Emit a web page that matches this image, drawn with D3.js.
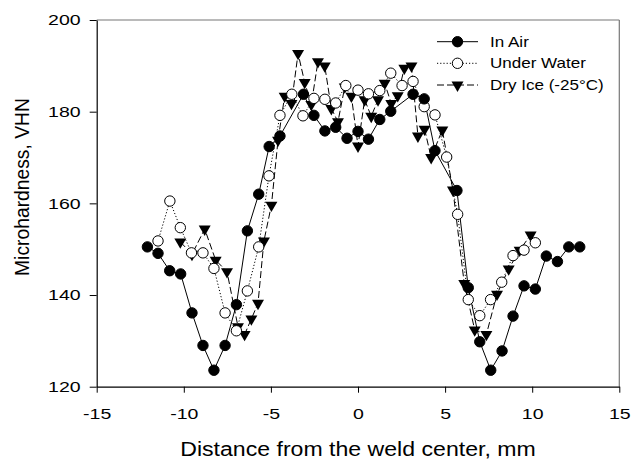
<!DOCTYPE html>
<html><head><meta charset="utf-8">
<script src="https://cdn.jsdelivr.net/npm/d3@7"></script>
<style>body{margin:0;background:#fff;} text{font-family:Arial,"Liberation Sans",sans-serif;}</style>
</head><body>
<svg id="c" width="632" height="461"></svg>
<script>
const airX = [-12.09,-11.48,-10.81,-10.18,-9.53,-8.90,-8.27,-7.63,-6.98,-6.35,-5.70,-5.10,-4.48,-3.13,-2.53,-1.90,-1.28,-0.63,0,0.60,1.25,1.88,3.16,3.80,4.42,5.68,6.33,6.99,7.62,8.27,8.90,9.53,10.18,10.81,11.45,12.10,12.73];
const airY = [150.5,149.1,145.3,144.6,136.1,129.0,123.6,129.0,137.9,154.0,162.0,172.4,174.7,183.8,179.2,175.8,176.6,174.2,175.7,174.0,178.3,180.1,183.8,182.8,171.5,162.8,141.6,129.8,123.6,127.8,135.4,142.0,141.3,148.5,147.3,150.5,150.5];
const waterX = [-11.48,-10.80,-10.20,-9.56,-8.90,-8.27,-7.63,-6.98,-6.35,-5.70,-5.11,-4.48,-3.80,-3.16,-2.53,-1.90,-1.28,-0.70,0,0.60,1.25,1.88,2.53,3.16,3.80,4.42,5.09,5.72,6.33,6.99,7.61,8.25,8.90,9.53,10.18];
const waterY = [151.8,160.5,154.7,149.2,149.2,145.8,136.1,132.2,140.9,150.5,166.0,179.2,183.8,179.1,182.9,182.7,181.9,185.7,184.7,183.9,184.6,188.4,185.7,186.6,181.1,179.3,170.1,157.6,139.0,135.5,139.0,142.8,148.6,149.8,151.4];
const iceX = [-10.20,-9.53,-8.80,-8.17,-7.52,-6.89,-6.51,-6.12,-5.74,-5.40,-4.97,-4.59,-4.21,-3.82,-3.44,-3.06,-2.68,-2.30,-1.91,-1.53,-1.15,-0.76,-0.38,0,0.38,0.76,1.15,1.53,1.91,2.28,2.66,3.07,3.44,3.82,4.20,4.84,5.45,6.10,6.70,7.37,7.98,8.65,9.28,9.91];
const iceY = [151.6,148.9,154.4,147.6,145.1,133.1,131.4,134.8,138.2,151.8,159.6,173.8,183.4,181.8,192.7,186.4,181.6,190.9,190.0,180.7,177.8,185.4,183.4,172.5,182.6,179.0,182.6,186.2,181.8,183.5,189.5,190.0,174.7,176.2,170.0,176.0,162.9,142.5,132.4,131.4,140.2,145.7,149.8,153.1];
const xTicks = [-15,-10,-5,0,5,10,15];
const yTicks = [120,140,160,180,200];
const seriesNames = ["In Air","Under Water","Dry Ice (-25°C)"];

const svg = d3.select("#c");
const L = 96.7, R = 619.3, T = 20, B = 386.7;
const x = d3.scaleLinear().domain([-15,15]).range([L,R]);
const y = d3.scaleLinear().domain([120,200]).range([B,T]);

function stretch(sel, f){
  sel.each(function(){
    const t = d3.select(this);
    const ax = +t.attr("x") || 0;
    t.attr("transform",`translate(${ax},0) scale(${f},1) translate(${-ax},0)`);
  });
}

// frame
svg.append("line").attr("x1",L).attr("x2",R).attr("y1",T).attr("y2",T).attr("stroke","#777").attr("stroke-width",1.2);
svg.append("line").attr("x1",R).attr("x2",R).attr("y1",T).attr("y2",B).attr("stroke","#777").attr("stroke-width",1.2);

const xa = svg.append("g").attr("transform",`translate(0,${B})`)
  .call(d3.axisBottom(x).tickValues(xTicks).tickSize(6).tickPadding(15.5).tickSizeOuter(0).tickFormat(d3.format("d")));
const ya = svg.append("g").attr("transform",`translate(${L},0)`)
  .call(d3.axisLeft(y).tickValues(yTicks).tickSize(7).tickPadding(9).tickSizeOuter(0));
[xa,ya].forEach(a=>{
  a.selectAll("text").attr("font-size",15.5).attr("fill","#000").attr("font-family",'Arial,"Liberation Sans",sans-serif');
  a.selectAll("line").attr("stroke","#000");
  a.select(".domain").attr("stroke","#000").attr("stroke-width",1.2);
});
xa.selectAll("text").text(d=>d<0? "-"+Math.abs(d) : d);
stretch(xa.selectAll("text"), 1.26);
stretch(ya.selectAll("text"), 1.26);

const xt = svg.append("text").attr("x",(L+R)/2).attr("y",456.5).attr("text-anchor","middle").attr("font-size",21).text("Distance from the weld center, mm");
stretch(xt, 1.1);
svg.append("text").attr("transform",`translate(29,187) rotate(-90)`).attr("text-anchor","middle").attr("font-size",19.3).text("Microhardness, VHN");

const tri = d3.symbol().type(d3.symbolTriangle).size(62);
function drawMarker(g, kind, cx, cy){
  if(kind===0) g.append("circle").attr("cx",cx).attr("cy",cy).attr("r",5.2).attr("fill","#000").attr("stroke","#000");
  else if(kind===1) g.append("circle").attr("cx",cx).attr("cy",cy).attr("r",5.2).attr("fill","#fff").attr("stroke","#000").attr("stroke-width",1);
  else g.append("path").attr("d",tri).attr("transform",`translate(${cx},${cy}) rotate(180)`).attr("fill","#000");
}
const dashes = [null,"1.2,2","7,3"];
const data = [
  {xs:airX, ys:airY},
  {xs:waterX, ys:waterY},
  {xs:iceX, ys:iceY}
];
const line = d3.line().x(d=>x(d[0])).y(d=>y(d[1]));
const order = [2,1,0];
order.forEach(k=>{
  const pts = data[k].xs.map((v,i)=>[v,data[k].ys[i]]);
  svg.append("path").attr("d",line(pts)).attr("fill","none").attr("stroke","#000").attr("stroke-width",1)
    .attr("stroke-dasharray",dashes[k]);
});
order.forEach(k=>{
  const g = svg.append("g");
  data[k].xs.forEach((v,i)=>drawMarker(g,k,x(v),y(data[k].ys[i])));
});

// legend
const ly = [41.7,63.3,85];
seriesNames.forEach((n,k)=>{
  svg.append("line").attr("x1",437).attr("x2",478).attr("y1",ly[k]).attr("y2",ly[k]).attr("stroke","#000").attr("stroke-dasharray",dashes[k]);
  const g = svg.append("g");
  drawMarker(g,k,457.5,ly[k]);
  const t = svg.append("text").attr("x",490).attr("y",ly[k]).attr("dy","0.35em").attr("font-size",14.2).text(n);
  stretch(t, 1.2);
});
</script>
</body></html>
